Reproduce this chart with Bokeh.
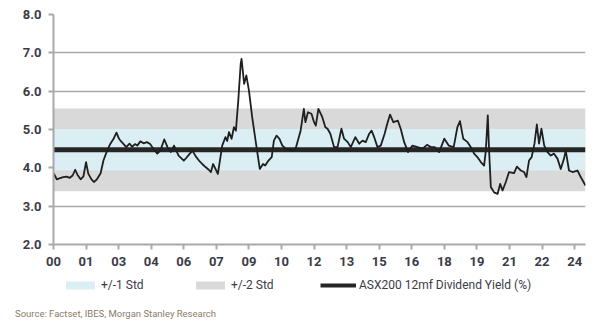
from bokeh.plotting import figure
from bokeh.layouts import column
from bokeh.models import (FixedTicker, PrintfTickFormatter, Legend, LegendItem, Range1d, Div)
from bokeh.embed import file_html
from bokeh.resources import INLINE

# ---- data ----
dates = [2000.00, 2000.08, 2000.15, 2000.30, 2000.45, 2000.60, 2000.75, 2000.88, 2001.00, 2001.10,
         2001.25, 2001.38, 2001.50, 2001.60, 2001.75, 2001.86, 2002.00, 2002.17, 2002.30, 2002.47,
         2002.62, 2002.76, 2002.90, 2003.00, 2003.08, 2003.20, 2003.35, 2003.50, 2003.62, 2003.75,
         2003.86, 2004.00, 2004.15, 2004.30, 2004.45, 2004.60, 2004.78, 2004.92, 2005.10, 2005.25,
         2005.40, 2005.55, 2005.76, 2006.00, 2006.10, 2006.25, 2006.40, 2006.55, 2006.70, 2006.85,
         2007.00, 2007.15, 2007.25, 2007.35, 2007.57, 2007.77, 2007.92, 2008.00, 2008.08, 2008.20,
         2008.31, 2008.40, 2008.51, 2008.62, 2008.66, 2008.78, 2008.88, 2009.00, 2009.15, 2009.35,
         2009.50, 2009.65, 2009.75, 2009.90, 2010.05, 2010.15, 2010.27, 2010.40, 2010.54, 2010.70,
         2011.00, 2011.15, 2011.38, 2011.53, 2011.60, 2011.72, 2011.88, 2012.00, 2012.08, 2012.20,
         2012.38, 2012.52, 2012.62, 2012.75, 2012.92, 2013.08, 2013.26, 2013.38, 2013.55, 2013.69,
         2013.90, 2014.08, 2014.23, 2014.38, 2014.54, 2014.65, 2014.77, 2014.92, 2015.07, 2015.25,
         2015.37, 2015.50, 2015.65, 2015.86, 2015.99, 2016.15, 2016.33, 2016.53, 2016.76, 2017.00,
         2017.20, 2017.38, 2017.56, 2017.76, 2018.00, 2018.20, 2018.43, 2018.60, 2018.72, 2018.87,
         2019.07, 2019.22, 2019.37, 2019.52, 2019.68, 2019.83, 2019.91, 2020.00, 2020.06, 2020.14,
         2020.29, 2020.45, 2020.57, 2020.68, 2020.83, 2020.98, 2021.21, 2021.34, 2021.52, 2021.67,
         2021.78, 2021.90, 2022.02, 2022.15, 2022.26, 2022.36, 2022.47, 2022.60, 2022.75, 2022.90,
         2023.05, 2023.21, 2023.36, 2023.51, 2023.59, 2023.74, 2023.90, 2024.13, 2024.28, 2024.50]
div_yield = [3.86, 3.78, 3.70, 3.73, 3.76, 3.77, 3.74, 3.80, 3.95, 3.82,
             3.70, 3.78, 4.15, 3.85, 3.70, 3.63, 3.70, 3.86, 4.19, 4.45,
             4.63, 4.75, 4.92, 4.78, 4.71, 4.64, 4.54, 4.63, 4.55, 4.62,
             4.58, 4.69, 4.64, 4.67, 4.62, 4.50, 4.37, 4.45, 4.74, 4.54,
             4.41, 4.58, 4.32, 4.19, 4.25, 4.35, 4.45, 4.30, 4.19, 4.10,
             4.02, 3.95, 3.89, 4.10, 3.84, 4.58, 4.80, 4.70, 4.93, 4.76,
             5.06, 4.97, 5.76, 6.71, 6.84, 6.19, 6.41, 6.02, 5.32, 4.54,
             3.97, 4.10, 4.06, 4.19, 4.28, 4.71, 4.84, 4.76, 4.58, 4.50,
             4.45, 4.50, 4.97, 5.54, 5.19, 5.45, 5.41, 5.19, 5.10, 5.54,
             5.32, 5.06, 5.02, 4.89, 4.54, 4.54, 5.02, 4.76, 4.67, 4.54,
             4.80, 4.63, 4.71, 4.67, 4.89, 4.97, 4.80, 4.54, 4.58, 4.89,
             5.15, 5.39, 5.19, 5.23, 5.02, 4.67, 4.41, 4.58, 4.54, 4.50,
             4.60, 4.54, 4.54, 4.41, 4.76, 4.58, 4.54, 5.06, 5.22, 4.76,
             4.67, 4.54, 4.37, 4.28, 4.15, 4.06, 4.45, 5.37, 4.45, 3.50,
             3.36, 3.32, 3.58, 3.41, 3.63, 3.89, 3.86, 4.03, 3.93, 3.89,
             3.76, 4.19, 4.28, 4.63, 5.13, 4.63, 5.02, 4.58, 4.41, 4.32,
             4.37, 4.24, 3.97, 4.24, 4.45, 3.93, 3.89, 3.93, 3.76, 3.54]
mean_yield = 4.47
std_yield = 0.54
x_tick_values = [2000, 2001.5, 2003, 2004.5, 2006, 2007.5, 2009, 2010.5, 2012,
                 2013.5, 2015, 2016.5, 2018, 2019.5, 2021, 2022.5, 2024]
x_tick_labels = ["00", "01", "03", "04", "06", "07", "09", "10", "12",
                 "13", "15", "16", "18", "19", "21", "22", "24"]
y_tick_values = [2, 3, 4, 5, 6, 7, 8]
legend_labels = ["+/-1 Std", "+/-2 Std", "ASX200 12mf Dividend Yield (%)"]
source_text = "Source: Factset, IBES, Morgan Stanley Research"

FONT = "Roboto"
TXT = "#3b3b48"
GRID = "#a9a9a9"
C_BAND1 = "#daeef3"
C_BAND2 = "#d9d9d9"
C_LINE = "#1f1f1f"

# ---------------- main chart ----------------
p = figure(width=600, height=272, output_backend="svg", toolbar_location=None,
           x_range=(dates[0], dates[-1]), y_range=(2, 8),
           min_border_left=53, min_border_right=15, min_border_top=14, min_border_bottom=28)
p.outline_line_color = None

x0, x1 = dates[0], dates[-1]
p.quad(left=[x0], right=[x1], bottom=[mean_yield - 2 * std_yield],
       top=[mean_yield + 2 * std_yield], fill_color=C_BAND2, line_color=None)
p.quad(left=[x0], right=[x1], bottom=[mean_yield - std_yield],
       top=[mean_yield + std_yield], fill_color=C_BAND1, line_color=None)
p.line([x0, x1], [mean_yield, mean_yield], line_color="#262626", line_width=5)
p.line(dates, div_yield, line_color=C_LINE, line_width=1.8, line_join="round")

p.xaxis.ticker = FixedTicker(ticks=x_tick_values)
p.xaxis.major_label_overrides = {v: l for v, l in zip(x_tick_values, x_tick_labels)}
p.yaxis.ticker = FixedTicker(ticks=y_tick_values)
p.yaxis.formatter = PrintfTickFormatter(format="%.1f")
for ax in (p.xaxis, p.yaxis):
    ax.axis_line_color = GRID
    ax.axis_line_width = 2
    ax.major_tick_line_color = GRID
    ax.major_tick_line_width = 2
    ax.major_tick_out = 5
    ax.major_tick_in = 0
    ax.minor_tick_line_color = None
    ax.major_label_text_font = FONT
    ax.major_label_text_font_size = "13px"
    ax.major_label_text_font_style = "bold"
    ax.major_label_text_color = TXT
p.yaxis.major_label_standoff = 7
p.xaxis.major_label_standoff = 7
p.xgrid.grid_line_color = None
p.ygrid.grid_line_color = GRID
p.ygrid.grid_line_width = 1.5

# ---------------- legend strip (its frame lines up with the chart frame) ----------------
p2 = figure(width=600, height=30, output_backend="svg", toolbar_location=None,
            x_range=Range1d(0, 1), y_range=Range1d(0, 1),
            x_axis_location=None, y_axis_location=None,
            min_border_left=53, min_border_right=15, min_border_top=0, min_border_bottom=0)
p2.grid.visible = False
p2.outline_line_color = None
# legend-only renderers (same series, outside this strip's visible range)
r1 = p2.quad(left=[x0], right=[x1], bottom=[mean_yield - std_yield],
             top=[mean_yield + std_yield], fill_color=C_BAND1, line_color=None)
r2 = p2.quad(left=[x0], right=[x1], bottom=[mean_yield - 2 * std_yield],
             top=[mean_yield + 2 * std_yield], fill_color=C_BAND2, line_color=None)
r3 = p2.line([x0, x1], [mean_yield, mean_yield], line_color="#262626", line_width=4)

for lab, rend, xpos in zip(legend_labels, [r1, r2, r3], [9, 139, 267]):
    lg = Legend(items=[LegendItem(label=lab, renderers=[rend])],
                orientation="horizontal", location=(xpos, 10), padding=0, margin=0,
                glyph_width=36, glyph_height=10, label_standoff=3, label_height=14,
                label_text_font=FONT, label_text_font_size="12px", label_text_color=TXT,
                border_line_color=None, background_fill_alpha=0)
    p2.add_layout(lg, "center")

src = Div(text=source_text, width=600, height=21,
          styles={"font-family": "Roboto", "font-size": "9.5px", "color": "#8c7b6b",
                  "padding-left": "10px", "line-height": "13px", "white-space": "nowrap"})

layout = column(p, p2, src, spacing=0)
open("out.html", "w").write(file_html(layout, INLINE))
